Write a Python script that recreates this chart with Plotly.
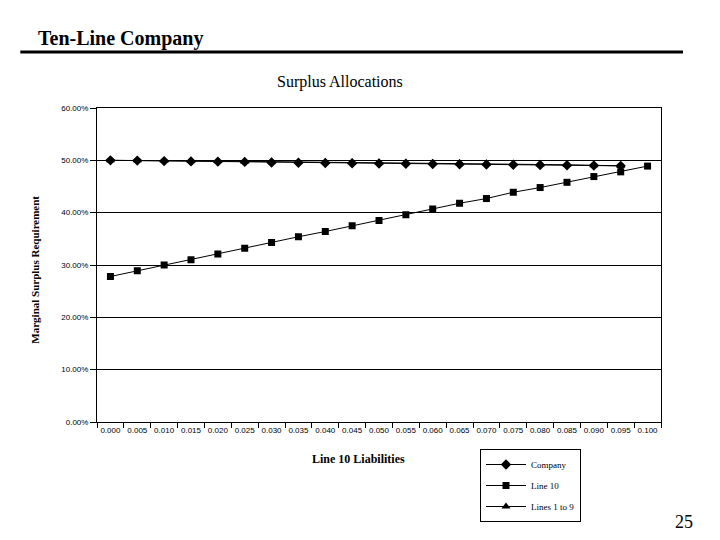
import plotly.graph_objects as go

x_labels = ["0.000", "0.005", "0.010", "0.015", "0.020", "0.025", "0.030", "0.035", "0.040", "0.045",
            "0.050", "0.055", "0.060", "0.065", "0.070", "0.075", "0.080", "0.085", "0.090", "0.095", "0.100"]
company = [50.0, 49.95, 49.85, 49.8, 49.75, 49.7, 49.6, 49.55, 49.5, 49.45,
           49.4, 49.35, 49.3, 49.25, 49.2, 49.15, 49.1, 49.05, 49.0, 48.95]
line10 = [27.8, 28.9, 30.0, 31.0, 32.1, 33.2, 34.3, 35.4, 36.4, 37.5, 38.5,
          39.6, 40.7, 41.8, 42.7, 43.9, 44.8, 45.8, 46.9, 47.8, 48.9]
lines1to9 = [50.0, 50.0, 49.95, 49.9, 49.85, 49.8, 49.8, 49.75, 49.7, 49.65,
             49.6, 49.55, 49.5, 49.45, 49.4, 49.35, 49.25, 49.15, 49.05, 48.95]
y_ticks = [0, 10, 20, 30, 40, 50, 60]
y_tick_labels = ["0.00%", "10.00%", "20.00%", "30.00%", "40.00%", "50.00%", "60.00%"]

serif = "Liberation Serif, Times New Roman, serif"
sans = "Liberation Sans, Arial, sans-serif"

fig = go.Figure()
fig.add_trace(go.Scatter(x=x_labels[:len(company)], y=company, name="Company", mode="lines+markers",
                         line=dict(color="black", width=1), legendgroup="a",
                         marker=dict(symbol="diamond", size=8, color="black")))
fig.add_trace(go.Scatter(x=x_labels[:len(line10)], y=line10, name="Line 10", mode="lines+markers",
                         line=dict(color="black", width=1), legendgroup="b",
                         marker=dict(symbol="square", size=7, color="black")))
fig.add_trace(go.Scatter(x=x_labels[:len(lines1to9)], y=lines1to9, name="Lines 1 to 9", mode="lines+markers",
                         line=dict(color="black", width=1), legendgroup="c",
                         marker=dict(symbol="triangle-up", size=8, color="black")))

fig.update_layout(
    width=720, height=540,
    margin=dict(l=97, r=59, t=108, b=118, autoexpand=False),
    paper_bgcolor="white", plot_bgcolor="white",
    showlegend=True,
    legend=dict(xref="container", yref="container", x=480 / 720, y=1 - 449 / 540,
                xanchor="left", yanchor="top",
                bordercolor="black", borderwidth=1, bgcolor="white",
                font=dict(family=serif, size=9, color="black"),
                tracegroupgap=2, itemwidth=40),
    xaxis=dict(type="category", categoryorder="array", categoryarray=x_labels,
               range=[-0.5, len(x_labels) - 0.5], tickson="boundaries",
               ticks="outside", ticklen=5, tickcolor="black", tickangle=0,
               showline=True, linecolor="black", linewidth=1, mirror=True,
               showgrid=False, tickfont=dict(family=sans, size=8, color="black")),
    yaxis=dict(range=[0, 60], tickvals=y_ticks, ticktext=y_tick_labels,
               ticks="outside", ticklen=6, tickcolor="black",
               showline=True, linecolor="black", linewidth=1, mirror=True,
               showgrid=True, gridcolor="black", gridwidth=1, zeroline=False,
               tickfont=dict(family=sans, size=8, color="black")),
    shapes=[dict(type="line", xref="paper", yref="paper", x0=-0.136, x1=1.039,
                 y0=1.178, y1=1.178, line=dict(color="black", width=3))],
    annotations=[
        dict(text="<b>Ten-Line Company</b>", xref="paper", yref="paper", x=-0.108, y=1.22,
             xanchor="left", yanchor="middle", showarrow=False,
             font=dict(family=serif, size=20, color="black")),
        dict(text="Surplus Allocations", xref="paper", yref="paper", x=0.431, y=1.083,
             xanchor="center", yanchor="middle", showarrow=False,
             font=dict(family=serif, size=16, color="black")),
        dict(text="<b>Line 10 Liabilities</b>", xref="paper", yref="paper", x=0.463, y=-0.118,
             xanchor="center", yanchor="middle", showarrow=False,
             font=dict(family=serif, size=12, color="black")),
        dict(text="<b>Marginal Surplus Requirement</b>", xref="paper", yref="paper", x=-0.11, y=0.485,
             xanchor="center", yanchor="middle", showarrow=False, textangle=-90,
             font=dict(family=serif, size=11, color="black")),
        dict(text="25", xref="paper", yref="paper", x=1.04, y=-0.318,
             xanchor="center", yanchor="middle", showarrow=False,
             font=dict(family=serif, size=18, color="black")),
    ],
)

fig.write_html("out.html", config={"displayModeBar": False},
               post_script="document.body.style.margin='0';")
